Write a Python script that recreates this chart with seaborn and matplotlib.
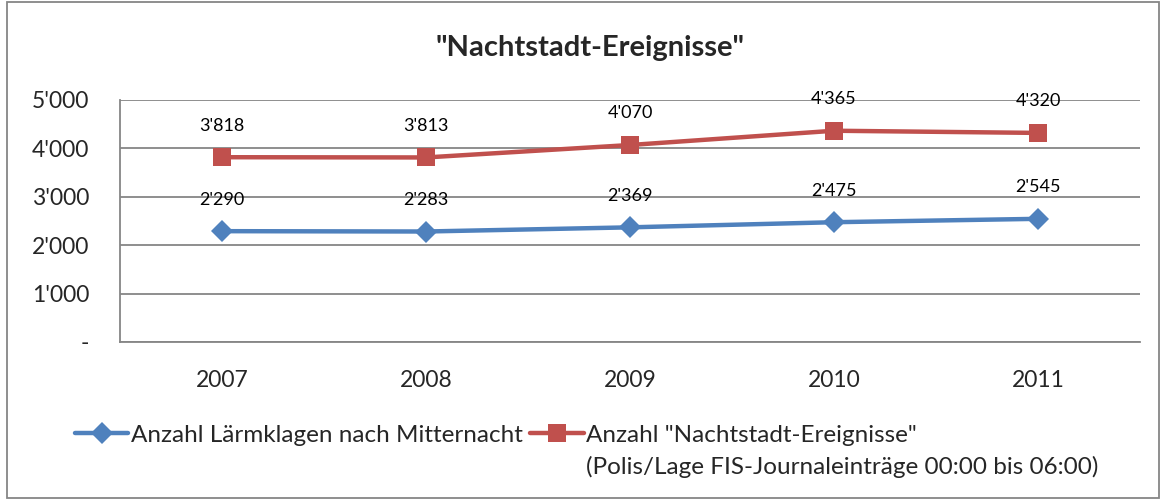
import matplotlib
matplotlib.use("Agg")
import matplotlib.pyplot as plt
import seaborn as sns
import pandas as pd
from matplotlib.ticker import FuncFormatter
from matplotlib.patches import Rectangle

years = ["2007", "2008", "2009", "2010", "2011"]
laerm = [2290, 2283, 2369, 2475, 2545]
nacht = [3818, 3813, 4070, 4365, 4320]
label_laerm = "Anzahl Lärmklagen nach Mitternacht"
label_nacht = 'Anzahl "Nachtstadt-Ereignisse"'
label_nacht_2 = "(Polis/Lage FIS-Journaleinträge 00:00 bis 06:00)"
title = '"Nachtstadt-Ereignisse"'

sns.set_theme(style="white")
plt.rcParams['font.family'] = ['Lato', 'DejaVu Sans']

df = pd.DataFrame({
    "Jahr": years * 2,
    "Wert": laerm + nacht,
    "Serie": [label_laerm] * 5 + [label_nacht] * 5,
})

fig = plt.figure(figsize=(11.64, 5), dpi=100)
ax = fig.add_axes([120/1164, 158/500, 1020/1164, 242/500])

colors = {label_laerm: "#4F81BD", label_nacht: "#C0504D"}
markers = {label_laerm: "D", label_nacht: "s"}
sns.lineplot(data=df, x="Jahr", y="Wert", hue="Serie", style="Serie",
             palette=colors, markers=markers, dashes=False, linewidth=3.2,
             markersize=13, markeredgewidth=0, ax=ax, legend=True, sort=False)
for line in ax.get_lines():
    if line.get_marker() == "D":
        line.set_markersize(11)

def fmt(v):
    return f"{int(v):,}".replace(",", "'")

for i, (a, b) in enumerate(zip(laerm, nacht)):
    ax.annotate(fmt(a), (i, a), xytext=(0, 17), textcoords="offset points",
                ha="center", va="bottom", fontsize=13, color="black")
    ax.annotate(fmt(b), (i, b), xytext=(0, 17), textcoords="offset points",
                ha="center", va="bottom", fontsize=13, color="black")

ax.set_xlim(-0.5, 4.5)
ax.set_ylim(0, 5000)
ax.set_yticks([0, 1000, 2000, 3000, 4000, 5000])
ax.yaxis.set_major_formatter(FuncFormatter(lambda v, p: "-" if v == 0 else fmt(v)))
ax.grid(axis="y", color="#868686", linewidth=1.3)
ax.set_axisbelow(True)
ax.set_xlabel("")
ax.set_ylabel("")
for s in ["top", "right"]:
    ax.spines[s].set_visible(False)
for s in ["left", "bottom"]:
    ax.spines[s].set_color("#868686")
    ax.spines[s].set_linewidth(1.3)
ax.tick_params(axis="y", labelsize=16.5, pad=22, length=0)
ax.tick_params(axis="x", labelsize=16.5, pad=20, length=0)

fig.suptitle(title, x=590/1164, y=1 - 48/500, va="center", ha="center",
             fontsize=21, fontweight="bold")

handles, labels = ax.get_legend_handles_labels()
ax.get_legend().remove()
leg = fig.legend(handles, labels, loc="center left", bbox_to_anchor=(75/1164, 1 - 435/500),
                 ncol=2, frameon=False, fontsize=17.5, handlelength=2.2, handletextpad=0.1,
                 columnspacing=0.3, borderaxespad=0, borderpad=0)

fig.canvas.draw()
bb = leg.get_texts()[1].get_window_extent()
fig.text(bb.x0 / 1164, bb.y0 / 500 - 10/500, label_nacht_2, ha="left", va="top", fontsize=17.5)

fig.patches.append(Rectangle((7/1164, 2/500), 1152/1164, 496/500, transform=fig.transFigure,
                             fill=False, edgecolor="#868686", linewidth=1.3))

fig.savefig("out.png", dpi=100)
